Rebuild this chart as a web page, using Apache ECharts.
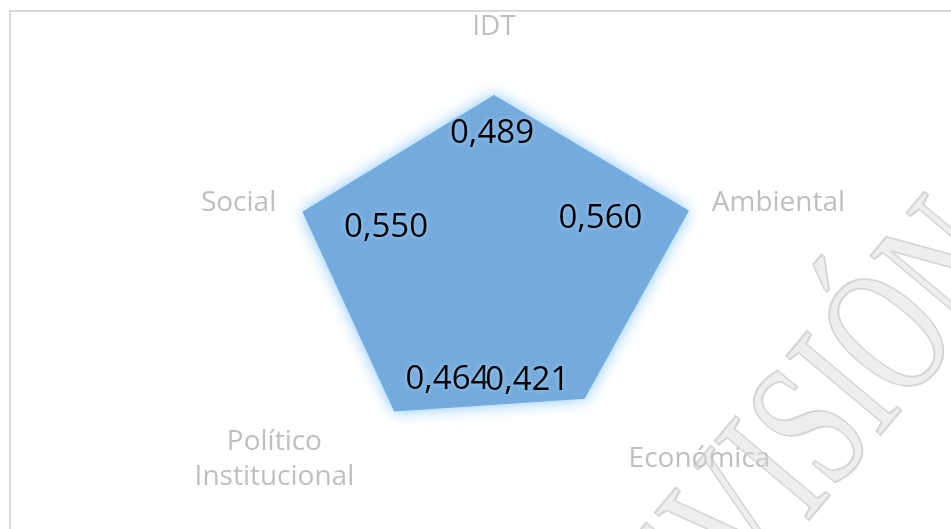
<!DOCTYPE html>
<html>
<head>
<meta charset="utf-8">
<title>IDT</title>
<script src="https://cdn.jsdelivr.net/npm/echarts@6/dist/echarts.min.js"></script>
<style>
  html, body { margin: 0; padding: 0; background: #fff; }
  #chart { width: 951px; height: 529px; }
</style>
</head>
<body>
<div id="chart"></div>
<script>
'use strict';

// ejes en el orden de ECharts (antihorario desde arriba)
var dimensions = ['IDT', 'Social', 'Político\nInstitucional', 'Económica', 'Ambiental'];
var idtValues = [0.489, 0.550, 0.464, 0.421, 0.560];
var axisMax = 0.6;

// desplazamiento de cada etiqueta respecto a su vértice (como en Excel)
var labelOffsets = [[-2, 38], [83, 16], [53, -31], [-57, -18], [-88, 8]];

var myChart = echarts.init(document.getElementById('chart'));

function fmt(v) {
    return v.toFixed(3).replace('.', ',');
}

var series = [{
    type: 'radar',
    symbol: 'none',
    silent: true,
    z: 2,
    data: [{ value: idtValues }],
    lineStyle: { color: '#5B9BD5', width: 1 },
    areaStyle: {
        color: '#75AADC',
        opacity: 1,
        shadowBlur: 16,
        shadowColor: 'rgba(130,195,250,1)'
    }
}];

// una serie invisible por eje, sólo para poner su etiqueta
dimensions.forEach(function (d, i) {
    series.push({
        type: 'radar',
        symbol: 'circle',
        symbolSize: 1,
        silent: true,
        z: 3,
        itemStyle: { color: 'rgba(0,0,0,0)' },
        lineStyle: { width: 0, opacity: 0 },
        data: [{ value: idtValues }],
        label: {
            show: true,
            position: 'inside',
            offset: labelOffsets[i],
            color: '#000',
            fontFamily: 'Open Sans',
            fontSize: 33,
            textShadowColor: 'rgba(160,210,250,1)',
            textShadowBlur: 5,
            formatter: function (p) {
                return p.dimensionIndex === i ? fmt(p.value) : '';
            }
        }
    });
});

var option = {
    animation: false,
    backgroundColor: '#fff',
    radar: {
        center: [494, 274],
        radius: 219,
        startAngle: 90,
        nameGap: 10,
        indicator: dimensions.map(function (d) {
            return { name: d, min: 0, max: axisMax };
        }),
        axisName: {
            color: '#BFBFBF',
            fontFamily: 'Open Sans',
            fontSize: 28,
            formatter: function (name) {
                if (name === 'IDT') {
                    return '{top|' + name + '}';
                }
                if (name.indexOf('\n') >= 0) {
                    return name.split('\n').map(function (s) {
                        return '{mid|' + s + '}';
                    }).join('\n');
                }
                return name;
            },
            rich: {
                top: {
                    color: '#BFBFBF', fontFamily: 'Open Sans', fontSize: 28,
                    padding: [0, 0, 4, 0]
                },
                mid: {
                    color: '#BFBFBF', fontFamily: 'Open Sans', fontSize: 28,
                    width: 170, align: 'center', lineHeight: 35
                }
            }
        },
        axisLine: { show: false },
        axisTick: { show: false },
        axisLabel: { show: false },
        splitLine: { show: false },
        splitArea: { show: false }
    },
    graphic: [
        {
            type: 'rect',
            silent: true,
            shape: { x: 10, y: 11, width: 1000, height: 1000 },
            style: { fill: 'none', stroke: '#D9D9D9', lineWidth: 2 }
        },
        {
            // marca de agua
            type: 'text',
            silent: true,
            z: 100,
            x: 795,
            y: 460,
            rotation: 50 * Math.PI / 180,
            scaleY: 1.5,
            style: {
                text: 'REVISIÓN',
                font: '125px "Liberation Serif"',
                align: 'center',
                verticalAlign: 'middle',
                fill: 'rgba(217,217,217,0.45)',
                stroke: 'rgba(195,195,195,0.7)',
                lineWidth: 1.5
            }
        }
    ],
    series: series
};

myChart.setOption(option);
</script>
</body>
</html>
